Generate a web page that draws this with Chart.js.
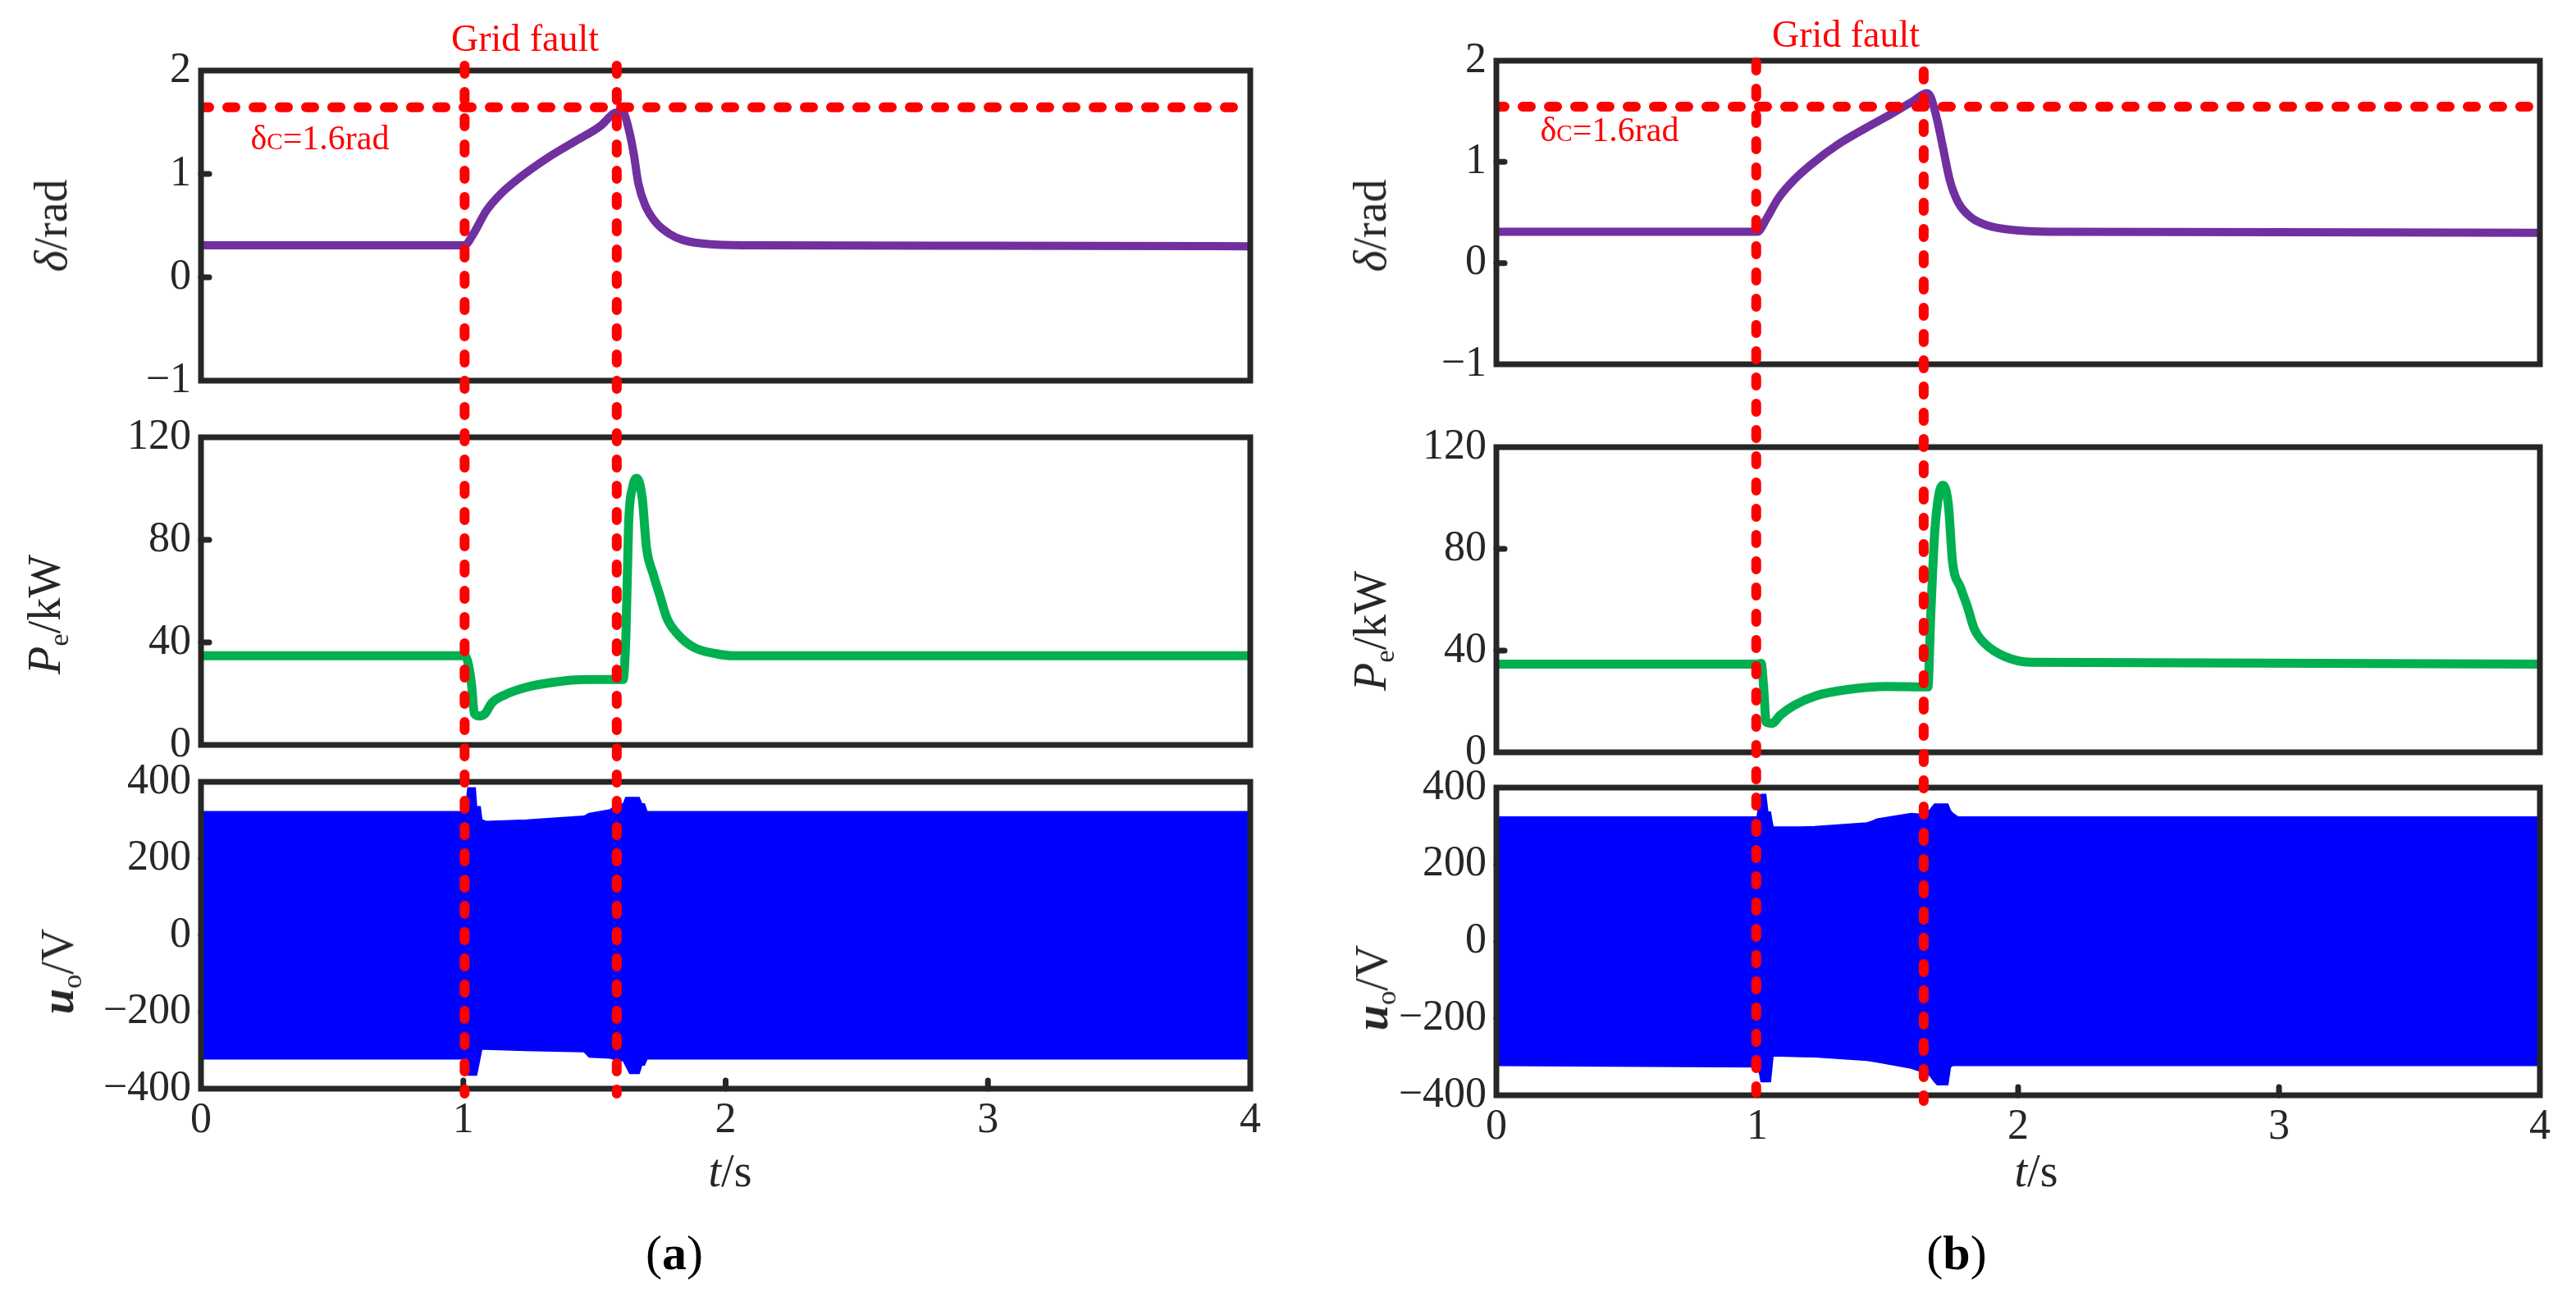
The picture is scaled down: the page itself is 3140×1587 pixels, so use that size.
<!DOCTYPE html>
<html><head><meta charset="utf-8">
<script src="https://cdn.jsdelivr.net/npm/chart.js@4.4.1/dist/chart.umd.min.js"></script>
<style>
html,body{margin:0;padding:0;background:#fff;}
#page{position:relative;width:3140px;height:1587px;overflow:hidden;background:#fff;font-family:"Liberation Serif","Times New Roman",serif;color:#262626;}
canvas{position:absolute;top:0;}
.lbl{position:absolute;white-space:nowrap;transform:translate(-50%,-50%);line-height:1;}
.rot{transform:translate(-50%,-50%) rotate(-90deg);}
.red{color:#ff0000;}
.ytitle{font-size:56px;}
sub{font-size:0.62em;vertical-align:-0.28em;line-height:0;}
</style></head><body><div id="page">
<canvas id="cA1"></canvas><canvas id="cA2"></canvas><canvas id="cA3"></canvas>
<canvas id="cB1"></canvas><canvas id="cB2"></canvas><canvas id="cB3"></canvas>

<div class="lbl red" style="left:640px;top:47px;font-size:46px;">Grid fault</div>
<div class="lbl red" style="left:2250px;top:42px;font-size:46px;">Grid fault</div>
<div class="lbl red" style="left:390px;top:168px;font-size:42px;">δ<span style="font-variant:small-caps">c</span>=1.6rad</div>
<div class="lbl red" style="left:1962px;top:158px;font-size:42px;">δ<span style="font-variant:small-caps">c</span>=1.6rad</div>

<div class="lbl rot ytitle" style="left:62px;top:275px;"><i>δ</i>/rad</div>
<div class="lbl rot ytitle" style="left:54px;top:749px;"><i>P</i><sub>e</sub>/kW</div>
<div class="lbl rot ytitle" style="left:70px;top:1184px;"><b><i>u</i></b><sub>o</sub>/V</div>
<div class="lbl rot ytitle" style="left:1670px;top:275px;"><i>δ</i>/rad</div>
<div class="lbl rot ytitle" style="left:1670px;top:769px;"><i>P</i><sub>e</sub>/kW</div>
<div class="lbl rot ytitle" style="left:1672px;top:1204px;"><b><i>u</i></b><sub>o</sub>/V</div>

<div class="lbl" style="left:890px;top:1427px;font-size:56px;"><i>t</i>/s</div>
<div class="lbl" style="left:2482px;top:1427px;font-size:56px;"><i>t</i>/s</div>
<div class="lbl" style="left:822px;top:1527px;font-size:60px;color:#000;">(<b>a</b>)</div>
<div class="lbl" style="left:2385px;top:1527px;font-size:60px;color:#000;">(<b>b</b>)</div>
</div>
<script>
// ---------- tick labels ----------
const xTicks = [0, 1, 2, 3, 4];
const deltaTicks = [-1, 0, 1, 2];
const powerTicks = [0, 40, 80, 120];
const voltTicks = [-400, -200, 0, 200, 400];

// ---------- fault instants (s) and critical angle line (rad) ----------
const faultTimesA = [1.005, 1.585];
const faultTimesB = [0.996, 1.638];
const deltaCritA = 1.645;
const deltaCritB = 1.545;

// ---------- panel (a) ----------
const deltaTimeA = [0, 1.005, 1.036, 1.088, 1.14, 1.213, 1.318, 1.422, 1.526, 1.573, 1.599, 1.61, 1.635, 1.651, 1.667, 1.693, 1.734, 1.786, 1.838, 1.943, 2.11, 3.0, 4.0];
const deltaA     = [0.31, 0.31, 0.41, 0.645, 0.80, 0.96, 1.15, 1.31, 1.47, 1.585, 1.598, 1.59, 1.386, 1.175, 0.91, 0.70, 0.53, 0.42, 0.36, 0.32, 0.31, 0.305, 0.30];

const powerTimeA = [0, 1.0, 1.008, 1.031, 1.042, 1.0625, 1.083, 1.109, 1.16, 1.234, 1.339, 1.474, 1.609, 1.62, 1.63, 1.646, 1.661, 1.682, 1.698, 1.724, 1.75, 1.776, 1.818, 1.88, 1.963, 2.03, 4.0];
const powerA     = [34.8, 34.8, 34.7, 23.9, 12.2, 11.3, 12.2, 16.4, 19.6, 22.3, 24.4, 25.5, 25.5, 43, 85.8, 100.7, 104, 96.4, 77.2, 66.6, 58, 49.5, 43.1, 38, 35.6, 34.8, 34.8];

const voltTimeA = [0, 1.0, 1.01, 1.018, 1.045, 1.05, 1.064, 1.07, 1.088, 1.24, 1.46, 1.48, 1.56, 1.59, 1.61, 1.62, 1.635, 1.67, 1.68, 1.69, 1.70, 4.0];
const voltUpA   = [322, 322, 335, 384, 384, 335, 335, 301, 296, 300, 310, 317, 327, 342, 342, 359, 359, 359, 342, 342, 322, 322];
const voltLowA  = [-322, -322, -342, -364, -364, -364, -317, -296, -297, -300, -303, -317, -320, -327, -327, -340, -360, -360, -338, -338, -322, -322];

// ---------- panel (b) ----------
const deltaTimeB = [0, 1.0, 1.036, 1.078, 1.14, 1.214, 1.308, 1.413, 1.518, 1.60, 1.649, 1.665, 1.69, 1.712, 1.738, 1.77, 1.82, 1.885, 1.97, 2.13, 3.0, 4.0];
const deltaB     = [0.31, 0.31, 0.44, 0.63, 0.82, 0.99, 1.17, 1.33, 1.48, 1.605, 1.68, 1.64, 1.41, 1.14, 0.82, 0.60, 0.45, 0.37, 0.33, 0.31, 0.305, 0.30];

const powerTimeB = [0, 1.0, 1.015, 1.025, 1.034, 1.057, 1.088, 1.14, 1.224, 1.34, 1.497, 1.654, 1.665, 1.68, 1.696, 1.712, 1.733, 1.748, 1.78, 1.806, 1.832, 1.874, 1.948, 2.05, 4.0];
const powerB     = [34.7, 34.7, 35, 24.8, 11.9, 11.4, 14.6, 18.4, 22.2, 24.6, 25.9, 25.7, 53.9, 86.1, 101.2, 105, 96.9, 75.4, 64.6, 57.1, 48.5, 42.6, 37.7, 35.4, 34.7];

const voltTimeB = [0, 1.0, 1.01, 1.015, 1.032, 1.04, 1.05, 1.06, 1.17, 1.22, 1.42, 1.44, 1.46, 1.59, 1.65, 1.66, 1.68, 1.69, 1.72, 1.73, 1.74, 1.75, 1.77, 4.0];
const voltUpB   = [323, 323, 372, 382, 382, 336, 336, 297, 297, 298, 308, 312, 318, 332, 329, 340, 357, 357, 357, 357, 340, 332, 323, 323];
const voltLowB  = [-322, -326, -345, -364, -364, -364, -364, -297, -299, -300, -309, -311, -313, -329, -343, -347, -365, -372, -372, -372, -326, -322, -322, -322];

// ---------- styling / layout ----------
const FONT = '"Liberation Serif", "Times New Roman", serif';
const FRAME = '#262626';
const CW = 1570, CH = 1587;
const panels = {
  A: {left: 0, L: 245, R: 1524, rows: [{T: 86, B: 464}, {T: 533, B: 908}, {T: 953, B: 1327}],
      faults: [{y0: 80, y1: 1333}, {y0: 80, y1: 1333}]},
  B: {left: 1570, L: 1824, R: 3096, rows: [{T: 74, B: 444}, {T: 545, B: 917}, {T: 960, B: 1335}],
      faults: [{y0: 76, y1: 1332}, {y0: 87, y1: 1342}]}
};

const pts = (xs, ys) => xs.map((x, i) => ({x: x, y: ys[i]}));
const minus = v => String(v).replace('-', '\u2212');

const panelPlugin = {
  id: 'panel',
  beforeDatasetsDraw(chart, args, o) {
    const ctx = chart.ctx, a = chart.chartArea;
    ctx.save();
    ctx.strokeStyle = FRAME; ctx.lineWidth = 7; ctx.lineCap = 'round';
    const ys = chart.scales.y;
    ys.ticks.forEach(t => {
      if (t.value <= ys.min || t.value >= ys.max) return;
      const p = ys.getPixelForValue(t.value);
      ctx.beginPath(); ctx.moveTo(a.left, p); ctx.lineTo(a.left + 10, p); ctx.stroke();
    });
    if (o.xInner) {
      const xs = chart.scales.x;
      xs.ticks.forEach(t => {
        if (t.value <= xs.min || t.value >= xs.max) return;
        const p = xs.getPixelForValue(t.value);
        ctx.beginPath(); ctx.moveTo(p, a.bottom); ctx.lineTo(p, a.bottom - 10); ctx.stroke();
      });
    }
    ctx.restore();
  },
  afterDatasetsDraw(chart, args, o) {
    const ctx = chart.ctx, a = chart.chartArea;
    ctx.save();
    ctx.strokeStyle = FRAME; ctx.lineWidth = 7; ctx.lineJoin = 'miter';
    ctx.strokeRect(a.left, a.top, a.right - a.left, a.bottom - a.top);
    ctx.restore();
  },
  afterDraw(chart, args, o) {
    if (!o.faults) return;
    const ctx = chart.ctx, xs = chart.scales.x;
    ctx.save();
    ctx.strokeStyle = '#ff0000'; ctx.lineWidth = 12; ctx.lineCap = 'round';
    ctx.setLineDash([10, 22]);
    o.faults.forEach(f => {
      const px = xs.getPixelForValue(f.t);
      ctx.beginPath(); ctx.moveTo(px, f.y0); ctx.lineTo(px, f.y1); ctx.stroke();
    });
    ctx.restore();
  }
};

function makeChart(id, panel, row, datasets, yTicks, isBottom, faults) {
  const cv = document.getElementById(id);
  cv.width = CW; cv.height = CH;
  cv.style.left = panel.left + 'px'; cv.style.width = CW + 'px'; cv.style.height = CH + 'px';
  const r = panel.rows[row];
  const yW = panel.L - panel.left;
  const xH = isBottom ? 100 : 0;
  const tickFont = {family: FONT, size: 52};
  return new Chart(cv, {
    type: 'line',
    data: {datasets: datasets},
    plugins: [panelPlugin],
    options: {
      responsive: false, animation: false, devicePixelRatio: 1,
      events: [],
      layout: {padding: {left: 0, top: r.T, right: panel.left + CW - panel.R, bottom: CH - r.B - xH}},
      plugins: {legend: {display: false}, tooltip: {enabled: false},
        panel: {xInner: isBottom, faults: faults}},
      elements: {point: {radius: 0}, line: {tension: 0}},
      scales: {
        x: {type: 'linear', min: xTicks[0], max: xTicks[xTicks.length - 1], display: isBottom,
            afterBuildTicks: s => { s.ticks = xTicks.map(v => ({value: v})); },
            afterFit: s => { s.height = xH; },
            grid: {display: false, drawTicks: false}, border: {display: false},
            ticks: {font: tickFont, color: FRAME, padding: 8, maxRotation: 0, callback: v => minus(v)}},
        y: {type: 'linear', min: yTicks[0], max: yTicks[yTicks.length - 1],
            afterBuildTicks: s => { s.ticks = yTicks.map(v => ({value: v})); },
            afterFit: s => { s.width = yW; },
            grid: {display: false, drawTicks: false}, border: {display: false},
            ticks: {font: tickFont, color: FRAME, padding: 12, callback: v => minus(v)}}
      }
    }
  });
}

function buildPanel(key, dT, d, crit, pT, p, vT, vU, vL, faultTimes) {
  const P = panels[key];
  const c = key;
  makeChart('c' + c + '1', P, 0, [
    {data: pts([0, 4], [crit, crit]), borderColor: '#ff0000', borderWidth: 12, borderDash: [10, 22],
     borderCapStyle: 'round', fill: false, order: 0},
    {data: pts(dT, d), borderColor: '#7030A0', borderWidth: 10, fill: false,
     cubicInterpolationMode: 'monotone', order: 1}
  ], deltaTicks, false, null);
  makeChart('c' + c + '2', P, 1, [
    {data: pts(pT, p), borderColor: '#00B050', borderWidth: 11, fill: false,
     cubicInterpolationMode: 'monotone'}
  ], powerTicks, false, null);
  makeChart('c' + c + '3', P, 2, [
    {data: pts(vT, vU), borderColor: '#0000FF', backgroundColor: '#0000FF', borderWidth: 2, fill: '+1'},
    {data: pts(vT, vL), borderColor: '#0000FF', backgroundColor: '#0000FF', borderWidth: 2, fill: false}
  ], voltTicks, true, faultTimes.map((t, i) => ({t: t, y0: P.faults[i].y0, y1: P.faults[i].y1})));
}

buildPanel('A', deltaTimeA, deltaA, deltaCritA, powerTimeA, powerA, voltTimeA, voltUpA, voltLowA, faultTimesA);
buildPanel('B', deltaTimeB, deltaB, deltaCritB, powerTimeB, powerB, voltTimeB, voltUpB, voltLowB, faultTimesB);
</script></body></html>
